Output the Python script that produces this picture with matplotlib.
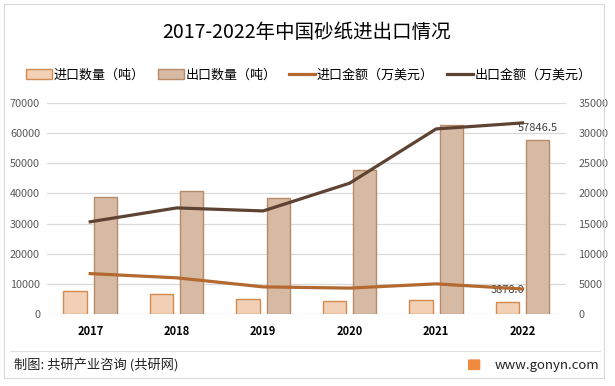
import matplotlib.pyplot as plt
import matplotlib.patches as mpatches
from matplotlib.lines import Line2D
import numpy as np

plt.rcParams['font.family'] = ['Noto Sans CJK SC', 'DejaVu Sans']

years = ["2017", "2018", "2019", "2020", "2021", "2022"]
import_qty = [7600, 6600, 5000, 4300, 4600, 3878.0]
export_qty = [38700, 40800, 38500, 47800, 62700, 57846.5]
import_amt = [6700, 6000, 4500, 4300, 5000, 4150]
export_amt = [15300, 17600, 17100, 21700, 30700, 31700]

c_imp_bar = "#F2D0B5"
c_imp_edge = "#D38A4E"
c_exp_bar = "#D6BAA4"
c_exp_edge = "#B98A68"
c_imp_line = "#B3692F"
c_exp_line = "#5E4332"

fig = plt.figure(figsize=(6.15, 3.86), dpi=100)
fig.patches.append(mpatches.Rectangle((0.007, 0.02), 0.975, 0.97, transform=fig.transFigure,
                                      fill=False, edgecolor="#D9D9D9", linewidth=0.8))

ax = fig.add_axes([0.0764, 0.1865, 0.8436, 0.5466])
ax2 = ax.twinx()

x = np.arange(len(years))
w = 0.27
off = 0.175
ax.bar(x - off, import_qty, w, color=c_imp_bar, edgecolor=c_imp_edge, linewidth=1, zorder=2)
ax.bar(x + off, export_qty, w, color=c_exp_bar, edgecolor=c_exp_edge, linewidth=1, zorder=2)
ax.set_ylim(0, 70000)
ax.set_yticks(range(0, 70001, 10000))
ax.set_xlim(-0.5, len(years) - 0.5)
ax.set_xticks(x)
ax.set_xticklabels(years, fontweight="bold", fontsize=8, color="#000000")
ax.grid(axis="y", color="#D9D9D9", linewidth=0.9, zorder=0)
ax.set_axisbelow(True)

ax2.plot(x, import_amt, color=c_imp_line, linewidth=2.3, zorder=3)
ax2.plot(x, export_amt, color=c_exp_line, linewidth=2.3, zorder=3)
ax2.set_ylim(0, 35000)
ax2.set_yticks(range(0, 35001, 5000))

for a in (ax, ax2):
    for s in a.spines.values():
        s.set_visible(False)
    a.tick_params(axis="both", length=0, labelsize=7.8, labelcolor="#595959")
ax.tick_params(axis="x", labelcolor="#000000", labelsize=8, pad=8)
ax.tick_params(axis="y", pad=5)
ax2.tick_params(axis="y", pad=9)
for lab in ax2.get_yticklabels():
    lab.set_horizontalalignment("left")

ax.annotate(f"{export_qty[-1]:.1f}", (x[-1] + off, export_qty[-1]), xytext=(0, 5),
            textcoords="offset points", ha="center", va="bottom", fontsize=8, color="#404040")
ax.annotate(f"{import_qty[-1]:.1f}", (x[-1] - off, import_qty[-1]), xytext=(0, 5),
            textcoords="offset points", ha="center", va="bottom", fontsize=8, color="#404040")

fig.text(0.498, 0.917, "2017-2022年中国砂纸进出口情况", ha="center", va="center",
         fontsize=14, color="#000000")

handles = [
    mpatches.Patch(facecolor=c_imp_bar, edgecolor=c_imp_edge, label="进口数量（吨）"),
    mpatches.Patch(facecolor=c_exp_bar, edgecolor=c_exp_edge, label="出口数量（吨）"),
    Line2D([0], [0], color=c_imp_line, linewidth=2.3, label="进口金额（万美元）"),
    Line2D([0], [0], color=c_exp_line, linewidth=2.3, label="出口金额（万美元）"),
]
fig.legend(handles=handles, loc="center", bbox_to_anchor=(0.502, 0.806), ncol=4, frameon=False,
           fontsize=9.4, handlelength=2.0, handleheight=0.75, handletextpad=0.1, columnspacing=1.0)

fig.add_artist(Line2D([0.016, 0.975], [0.09, 0.09], transform=fig.transFigure,
                      color="#E0E0E0", linewidth=0.8))
fig.text(0.022, 0.053, "制图: 共研产业咨询 (共研网)", ha="left", va="center", fontsize=9.5, color="#222222")
fig.text(0.975, 0.053, "www.gonyn.com", ha="right", va="center", fontsize=9.5, color="#222222")
fig.patches.append(mpatches.FancyBboxPatch((0.763, 0.043), 0.016, 0.024, transform=fig.transFigure,
                                           boxstyle="round,pad=0.002", facecolor="#F08A3C",
                                           edgecolor="none"))

fig.savefig("out.png", dpi=100)
